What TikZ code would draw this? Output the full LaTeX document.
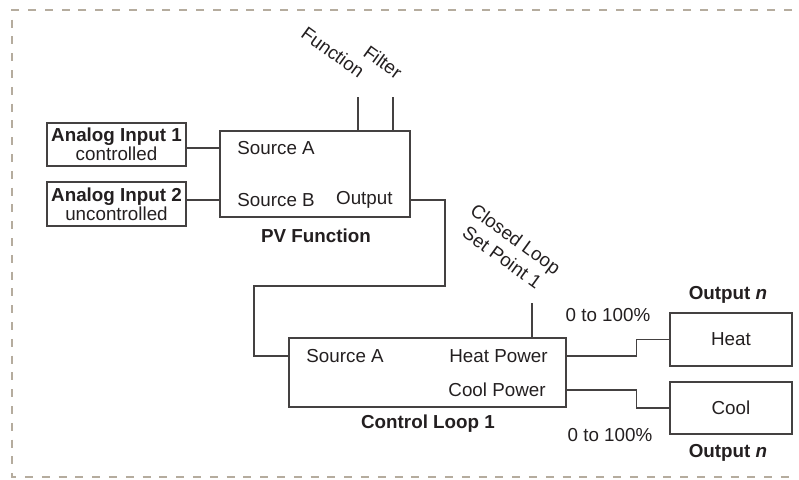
\documentclass[tikz,border=0pt]{standalone}
\usepackage{fontspec}
\setmainfont{Liberation Sans}
\usepackage{tikz}
\usetikzlibrary{positioning,calc}
\definecolor{framegray}{RGB}{181,172,158}
\definecolor{ink}{RGB}{35,31,32}

\begin{document}
\begin{tikzpicture}[
  x=0.5pt,y=-0.5pt,
  every node/.style={font=\fontsize{9.4}{9.6}\selectfont,text=ink,inner sep=0pt},
  blk/.style={draw=ink!85,line width=0.6pt,align=center},
  port/.style={font=\fontsize{9.4}{9.6}\selectfont},
  ttl/.style={font=\fontsize{9.4}{9.6}\selectfont\bfseries},
  tilt/.style={rotate=-36,align=center,font=\fontsize{9.4}{11.5}\selectfont},
  wire/.style={draw=ink!85,line width=0.6pt}
]
  \useasboundingbox (0,0) rectangle (799,479);
  \draw[framegray,line width=1.2pt,dash pattern=on 4pt off 4.4pt] (792,10) -- (12,10) -- (12,477) -- (792,477);

  \node[blk,minimum width=69.5pt,minimum height=21.5pt] (ai1) at (116.5,144.5) {\textbf{Analog Input 1}\\controlled};
  \node[blk,minimum width=69.5pt,minimum height=22pt] (ai2) at (116.5,204) {\textbf{Analog Input 2}\\uncontrolled};

  \node[blk,minimum width=95pt,minimum height=43pt] (pv) at (315,174) {};
  \node[port,anchor=west] (pvA) at (237,148) {Source A};
  \node[port,anchor=west] (pvB) at (237,200) {Source B};
  \node[port,anchor=east] (pvOut) at (393,200) {Output};
  \node[ttl] (pvT) at (316,236) {PV Function};
  \node[tilt] (fn) at (333,52) {Function};
  \node[tilt] (flt) at (383,62) {Filter};
  \coordinate (fnIn) at (358,97);
  \coordinate (fltIn) at (393,97);

  \node[blk,minimum width=138.5pt,minimum height=34.5pt] (loop) at (427.5,372.5) {};
  \node[port,anchor=west] (loopA) at (306,356) {Source A};
  \node[port,anchor=east] (loopHeat) at (548,356) {Heat Power};
  \node[port,anchor=east] (loopCool) at (546,390) {Cool Power};
  \node[ttl] (loopT) at (428,424) {Control Loop 1};
  \node[tilt] (spLbl) at (509,248) {Closed Loop\\Set Point 1};
  \coordinate (spIn) at (532,303);

  \node[blk,minimum width=61pt,minimum height=26.5pt] (heat) at (731,339.5) {Heat};
  \node[blk,minimum width=61pt,minimum height=26pt] (cool) at (731,408) {Cool};
  \node[ttl] (heatT) at (728,295) {Output \textit{n}};
  \node[ttl] (coolT) at (728,453) {Output \textit{n}};
  \node[port] (heatR) at (608,315) {0 to 100\%};
  \node[port] (coolR) at (610,435) {0 to 100\%};

  \coordinate (bendA) at (445,286);
  \coordinate (bendB) at (254,356);
  \draw[wire] (ai1.east |- pvA) -- (pv.west |- pvA);
  \draw[wire] (ai2.east |- pvB) -- (pv.west |- pvB);
  \draw[wire] (fnIn) -- (fnIn |- pv.north);
  \draw[wire] (fltIn) -- (fltIn |- pv.north);
  \draw[wire] (pv.east |- pvOut) -| (bendA) -| (bendB) -- (loop.west |- loopA);
  \draw[wire] (spIn) -- (spIn |- loop.north);
  \draw[wire] (loop.east |- loopHeat) -- ++(70,0) |- (heat.west);
  \draw[wire] (loop.east |- loopCool) -- ++(70,0) |- (cool.west);
\end{tikzpicture}
\end{document}
